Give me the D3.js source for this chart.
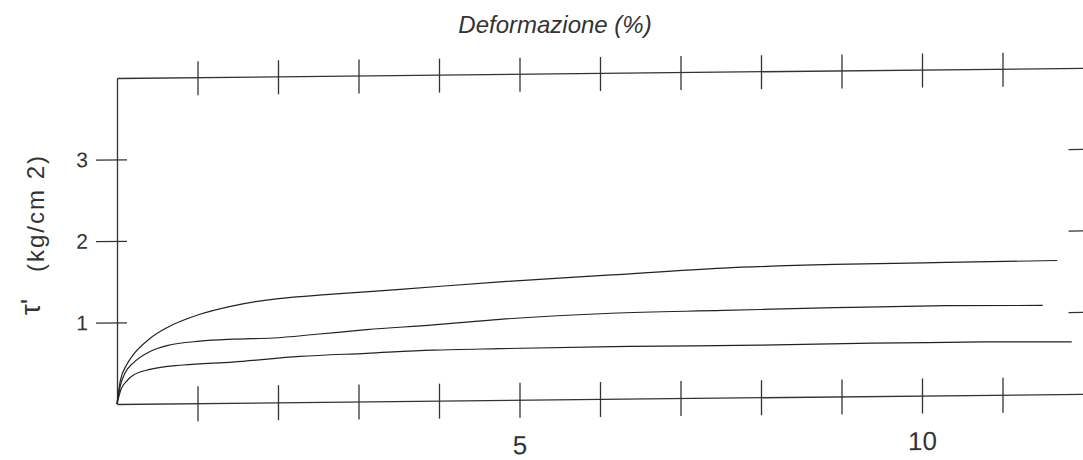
<!DOCTYPE html>
<html>
<head>
<meta charset="utf-8">
<script src="https://cdn.jsdelivr.net/npm/d3@7"></script>
<style>
  html, body { margin: 0; padding: 0; background: #fff; }
  svg { display: block; }
  text { font-family: "Liberation Sans", Arial, sans-serif; fill: #333; }
</style>
</head>
<body>
<div id="chart"></div>
<script>
// data: strain (%) vs shear stress tau (kg/cm2)
const strainHigh = [0, 0.04, 0.12, 0.2, 0.41, 0.62, 1.03, 1.44, 1.98, 2.68, 3.52, 4.76, 6.14, 7.53, 8.91, 10.3, 11.68];
const tauHigh    = [0, 0.28, 0.48, 0.6, 0.8, 0.93, 1.09, 1.19, 1.27, 1.32, 1.37, 1.45, 1.52, 1.59, 1.62, 1.63, 1.64];

const strainMid = [0, 0.04, 0.1, 0.2, 0.41, 0.62, 1.03, 1.44, 1.94, 2.48, 3.1, 3.93, 4.76, 6.14, 7.53, 8.91, 10.3, 11.5];
const tauMid    = [0, 0.22, 0.38, 0.5, 0.64, 0.71, 0.76, 0.78, 0.79, 0.83, 0.88, 0.93, 0.99, 1.05, 1.07, 1.09, 1.1, 1.09];

const strainLow = [0, 0.05, 0.12, 0.2, 0.41, 0.82, 1.44, 2.27, 3.1, 3.93, 4.76, 6.37, 7.99, 9.38, 10.76, 11.86];
const tauLow    = [0, 0.18, 0.28, 0.35, 0.42, 0.47, 0.5, 0.56, 0.59, 0.62, 0.63, 0.64, 0.64, 0.65, 0.65, 0.64];

const xTicks = d3.range(1, 12);
const xLabels = [5, 10];
const yTicks = [1, 2, 3];

const width = 1083;
const height = 460;

const svg = d3.select("#chart").append("svg")
    .attr("width", width)
    .attr("height", height);

const x = d3.scaleLinear().domain([0, 12]).range([117, 1083]);
const y = d3.scaleLinear().domain([0, 4]).range([404, 78]);

// the scan is slightly tilted: skew around the origin
const g = svg.append("g")
    .attr("transform", `translate(${x(0)},${y(0)}) skewY(-0.6) translate(${-x(0)},${-y(0)})`);

// bottom axis
const bottomAxisG = g.append("g")
    .attr("transform", `translate(0,${y(0)})`)
    .call(d3.axisBottom(x)
        .tickValues(xTicks)
        .tickSize(18)
        .tickSizeOuter(0)
        .tickPadding(18)
        .tickFormat(d => xLabels.includes(d) ? d : ""));
bottomAxisG.selectAll(".tick line").attr("y1", -17);
bottomAxisG.selectAll("text").style("font-size", "26px").attr("fill", "#444");

// top axis
const topAxisG = g.append("g")
    .attr("transform", `translate(0,${y(4)})`)
    .call(d3.axisTop(x)
        .tickValues(xTicks)
        .tickSize(16)
        .tickSizeOuter(0)
        .tickFormat(""));
topAxisG.selectAll(".tick line").attr("y1", 18);

// left axis
const leftAxisG = g.append("g")
    .attr("transform", `translate(${x(0)},0)`)
    .call(d3.axisLeft(y)
        .tickValues(yTicks)
        .tickSize(21)
        .tickSizeOuter(0)
        .tickPadding(8)
        .tickFormat(d3.format("d")));
leftAxisG.selectAll(".tick line").attr("x1", 10);
leftAxisG.selectAll("text").style("font-size", "21px").attr("fill", "#444");

// right-hand ticks peeking in at the edge
g.append("g").selectAll("line")
    .data(yTicks)
    .join("line")
    .attr("x1", x(11.82))
    .attr("x2", x(12.3))
    .attr("y1", d => y(d))
    .attr("y2", d => y(d));

g.selectAll(".domain, .tick line, line")
    .attr("stroke", "#333")
    .attr("stroke-width", 1.3);

// curves
const line = d3.line()
    .x(d => x(d[0]))
    .y(d => y(d[1]))
    .curve(d3.curveMonotoneX);

const series = [
    d3.zip(strainHigh, tauHigh),
    d3.zip(strainMid, tauMid),
    d3.zip(strainLow, tauLow)
];

g.append("g").selectAll("path")
    .data(series)
    .join("path")
    .attr("d", line)
    .attr("fill", "none")
    .attr("stroke", "#222")
    .attr("stroke-width", 1.2);

// titles
svg.append("text")
    .attr("x", 555)
    .attr("y", 33)
    .attr("text-anchor", "middle")
    .style("font-size", "24px")
    .style("font-style", "italic")
    .text("Deformazione (%)");

svg.append("text")
    .attr("transform", "translate(44,214) rotate(-90)")
    .attr("text-anchor", "middle")
    .attr("textLength", 116)
    .style("font-size", "24px")
    .attr("fill", "#444")
    .text("(kg/cm 2)");

svg.append("text")
    .attr("transform", "translate(40,307) rotate(-90)")
    .attr("text-anchor", "middle")
    .style("font-size", "28px")
    .attr("fill", "#444")
    .text("τ'");
</script>
</body>
</html>
